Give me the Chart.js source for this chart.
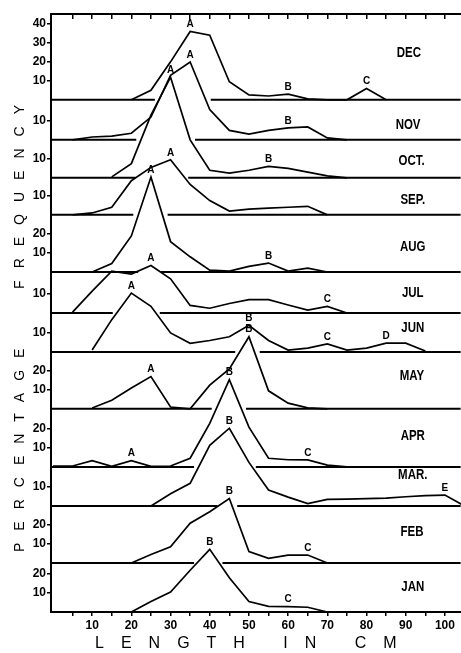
<!DOCTYPE html>
<html><head><meta charset="utf-8">
<script src="https://cdn.jsdelivr.net/npm/chart.js@4.4.1/dist/chart.umd.min.js"></script>
<style>html,body{margin:0;padding:0;background:#fff}canvas{display:block}</style>
</head><body>
<canvas id="c" width="461" height="653"></canvas>
<script>
// ---------- DATA (length in cm, percentage frequency) ----------
const monthNames = ['DEC','NOV','OCT.','SEP.','AUG','JUL','JUN','MAY','APR','MAR.','FEB','JAN'];

const decLen = [20,25,30,35,40,45,50,55,60,65,70,75,80,85];
const decPct = [0,5,20,36,34,9.5,2.6,2,3,0.5,0,0,6,0];
const novLen = [5,10,15,20,25,30,35,40,45,50,55,60,65,70,75];
const novPct = [0,1.5,2,3.5,12,34,41,16,5,3,5,6.3,6.8,1,0];
const octLen = [15,20,25,30,35,40,45,50,55,60,65,70,75];
const octPct = [0.5,7.5,33,53,20,4,2.5,4,6,5,3,1,0];
const sepLen = [5,10,15,20,25,30,35,40,45,50,55,60,65,70];
const sepPct = [0,1,4,18,25,29,16,7.5,2,3,3.5,4,4.5,0];
const augLen = [10,15,20,25,30,35,40,45,50,55,60,65,70];
const augPct = [0,4.5,19,50,16,8,1,0.5,3,4.7,0.5,2,0];
const julLen = [5,10,15,20,25,30,35,40,45,50,55,60,65,70,75];
const julPct = [0.5,11.5,22,20.5,25,18,4,2.5,5,7,7,4.2,1.5,3.5,0];
const junLen = [10,15,20,25,30,35,40,45,50,55,60,65,70,75,80,85,90,95];
const junPct = [1,17,31,24,10,4.5,6,8,14,6,1,2,4.2,1,2,4.6,4.6,0.5];
const mayLen = [10,15,20,25,30,35,40,45,50,55,60,65,70];
const mayPct = [0.5,4.5,11,17,1,0,12.5,21,38,9.5,3,0.5,0];
const aprLen = [0,5,10,15,20,25,30,35,40,45,50,55,60,65,70,75];
const aprPct = [0.5,0.5,3.3,0.3,3.3,0.3,0.5,4.6,23,46,21,4.6,3.8,3.7,1,0];
const marLen = [25,30,35,40,45,50,55,60,65,70,75,80,85,90,95,100,105];
const marPct = [0,6.5,12,32,41,23,8.5,4.7,1.3,3.5,3.7,3.9,4.2,4.9,5.5,5.8,0];
const febLen = [20,25,30,35,40,45,50,55,60,65,70];
const febPct = [0,4.5,8.5,21,27,34,6,2.5,4.2,4.2,0];
const janLen = [20,25,30,35,40,45,50,55,60,65,70];
const janPct = [0,5.5,10.5,22,33,18,5.5,3,2.8,2.5,0];

// mode letters: [letter, length]
const decMarks = [['A',35],['B',60],['C',80]];
const novMarks = [['A',35],['B',60]];
const octMarks = [['A',30],['B',55]];
const sepMarks = [['A',30]];
const augMarks = [['A',25],['B',55]];
const julMarks = [['A',25],['C',70]];
const junMarks = [['A',20],['B',50],['C',70],['D',85]];
const mayMarks = [['A',25],['B',50]];
const aprMarks = [['A',20],['B',45],['C',65]];
const marMarks = [['B',45],['E',100]];
const febMarks = [['B',45],['C',65]];
const janMarks = [['B',40],['C',60]];

// percentage tick labels per panel
const decTicks = [10,20,30,40];
const novTicks = [10];
const octTicks = [10];
const sepTicks = [10];
const augTicks = [10,20];
const julTicks = [10];
const junTicks = [10];
const mayTicks = [10,20];
const aprTicks = [10,20];
const marTicks = [10];
const febTicks = [10,20];
const janTicks = [10,20];

// length axis ticks
const xTickVals = [5,10,15,20,25,30,35,40,45,50,55,60,65,70,75,80,85,90,95,100];
const xTickLabels = [10,20,30,40,50,60,70,80,90,100];

// ---------- LAYOUT (panel baselines / label heights, in % units) ----------
const panelBase = [269.8,248.7,228.7,209.2,179.1,157.5,137,107,76.4,55.8,25.8,0];
const labelLevel = [24.8,7.9,8.6,7.9,13.3,10.4,12.5,17,16.3,16.3,16.5,13.3];
const labelX = [90.8,90.6,91.5,91.8,91.8,91.8,91.8,91.6,91.8,91.8,91.6,91.8];
const xMin = -0.5, xMax = 104.1, yMax = 315;

const lens = [decLen,novLen,octLen,sepLen,augLen,julLen,junLen,mayLen,aprLen,marLen,febLen,janLen];
const pcts = [decPct,novPct,octPct,sepPct,augPct,julPct,junPct,mayPct,aprPct,marPct,febPct,janPct];
const marks = [decMarks,novMarks,octMarks,sepMarks,augMarks,julMarks,junMarks,mayMarks,aprMarks,marMarks,febMarks,janMarks];
const ticksPer = [decTicks,novTicks,octTicks,sepTicks,augTicks,julTicks,junTicks,mayTicks,aprTicks,marTicks,febTicks,janTicks];

// value of panel j's curve (in stacked units) at length v
function curveAt(j, v) {
  const L = lens[j], P = pcts[j];
  if (v < L[0] || v > L[L.length-1]) return -Infinity;
  for (let k = 0; k < L.length-1; k++) {
    if (v >= L[k] && v <= L[k+1]) {
      const t = (v - L[k]) / (L[k+1] - L[k]);
      return panelBase[j] + P[k] + t * (P[k+1] - P[k]);
    }
  }
  return -Infinity;
}

// baseline of panel i, interrupted where a lower panel's curve rises through it
function baselineData(i) {
  const base = panelBase[i], thr = 2, margin = 1.5, step = 0.25;
  const xs = [];
  for (let v = xMin; v <= xMax + 1e-9; v += step) xs.push(v);
  const occ = xs.map(v => { for (let j = i+1; j < lens.length; j++) if (curveAt(j, v) > base + thr) return true; return false; });
  const vis = xs.map(v => !xs.some((w, m) => occ[m] && Math.abs(w - v) <= margin));
  const data = [];
  let start = null;
  for (let k = 0; k <= xs.length; k++) {
    const on = k < xs.length && vis[k];
    if (on && start === null) start = k;
    if (!on && start !== null) {
      if (data.length) data.push({x: xs[start] - step/2, y: null});
      data.push({x: xs[start], y: base}, {x: xs[k-1], y: base});
      start = null;
    }
  }
  return data;
}

const datasets = [];
monthNames.forEach((m, i) => {
  if (panelBase[i] > 0) {
    datasets.push({ label: m + ' base', data: baselineData(i), spanGaps:false,
      borderColor:'#000', borderWidth:2, pointRadius:0, tension:0 });
  }
  datasets.push({ label: m, data: lens[i].map((L, k) => ({x:L, y:pcts[i][k] + panelBase[i]})),
    borderColor:'#000', borderWidth:1.7, pointRadius:0, tension:0 });
});

const yTickList = [];
ticksPer.forEach((arr, i) => arr.forEach(t => yTickList.push({value: panelBase[i] + t, label: String(t)})));
yTickList.sort((a,b)=>a.value-b.value);

const FONT = "'Liberation Sans','DejaVu Sans',sans-serif";

const labelPlugin = {
  id: 'labels',
  afterDatasetsDraw(chart) {
    const {ctx, scales:{x, y}} = chart;
    ctx.save();
    ctx.fillStyle = '#000';
    // month labels (condensed)
    ctx.font = "bold 14px " + FONT;
    ctx.textAlign = 'center'; ctx.textBaseline = 'middle';
    monthNames.forEach((m,i) => {
      const px = x.getPixelForValue(labelX[i]), py = y.getPixelForValue(panelBase[i] + labelLevel[i]);
      ctx.save(); ctx.translate(px, py); ctx.scale(0.82, 1);
      ctx.fillText(m, 0, 0);
      ctx.restore();
    });
    // mode letters
    ctx.font = "bold 10px " + FONT;
    ctx.textBaseline = 'bottom';
    marks.forEach((arr,i) => arr.forEach(([letter, L]) => {
      const k = lens[i].indexOf(L);
      const v = pcts[i][k];
      ctx.fillText(letter, x.getPixelForValue(L), y.getPixelForValue(panelBase[i] + v) - 2);
    }));
    ctx.restore();
  },
  afterDraw(chart) {
    const {ctx} = chart;
    ctx.save();
    ctx.fillStyle = '#000';
    ctx.textBaseline = 'middle'; ctx.textAlign = 'left';
    ctx.font = "16px " + FONT;
    if ('letterSpacing' in ctx) ctx.letterSpacing = '17px';
    ctx.fillText('LENGTH IN CM', 95, 644);
    ctx.translate(20, 552);
    ctx.rotate(-Math.PI/2);
    ctx.font = "14px " + FONT;
    if ('letterSpacing' in ctx) ctx.letterSpacing = '12px';
    ctx.fillText('PERCENTAGE   FREQUENCY', 0, 0);
    ctx.restore();
  }
};

new Chart(document.getElementById('c'), {
  type: 'line',
  data: { datasets },
  options: {
    responsive: false, animation: false,
    layout: { padding: 0 },
    plugins: { legend: {display:false}, tooltip: {enabled:false} },
    scales: {
      x: { type:'linear', position:'bottom', min:xMin, max:xMax,
        afterBuildTicks: s => { s.ticks = xTickVals.map(v => ({value:v})); },
        afterFit: s => { s.height = 41; },
        ticks: { autoSkip:false, maxRotation:0, padding:2, color:'#000',
          font:{ family: FONT, size:12, weight:'bold' },
          callback: v => xTickLabels.includes(v) ? String(v) : '' },
        grid: { drawOnChartArea:false, tickLength:4, color:'#000', lineWidth:1.5 },
        border: { color:'#000', width:2 } },
      xTop: { type:'linear', position:'top', min:xMin, max:xMax,
        afterBuildTicks: s => { s.ticks = xTickVals.map(v => ({value:v})); },
        afterFit: s => { s.height = 14; },
        ticks: { display:false },
        grid: { drawOnChartArea:false, tickLength:-5, color:'#000', lineWidth:1.5 },
        border: { color:'#000', width:2 } },
      y: { type:'linear', min:0, max:yMax,
        afterBuildTicks: s => { s.ticks = yTickList.map(t => ({value:t.value})); },
        afterFit: s => { s.width = 51; },
        ticks: { autoSkip:false, padding:1, color:'#000',
          font:{ family: FONT, size:12, weight:'bold' },
          callback: (v, i) => yTickList[i] ? yTickList[i].label : '' },
        grid: { drawOnChartArea:false, tickLength:4, color:'#000', lineWidth:1.5 },
        border: { color:'#000', width:2 } }
    }
  },
  plugins: [labelPlugin]
});
</script>
</body></html>
